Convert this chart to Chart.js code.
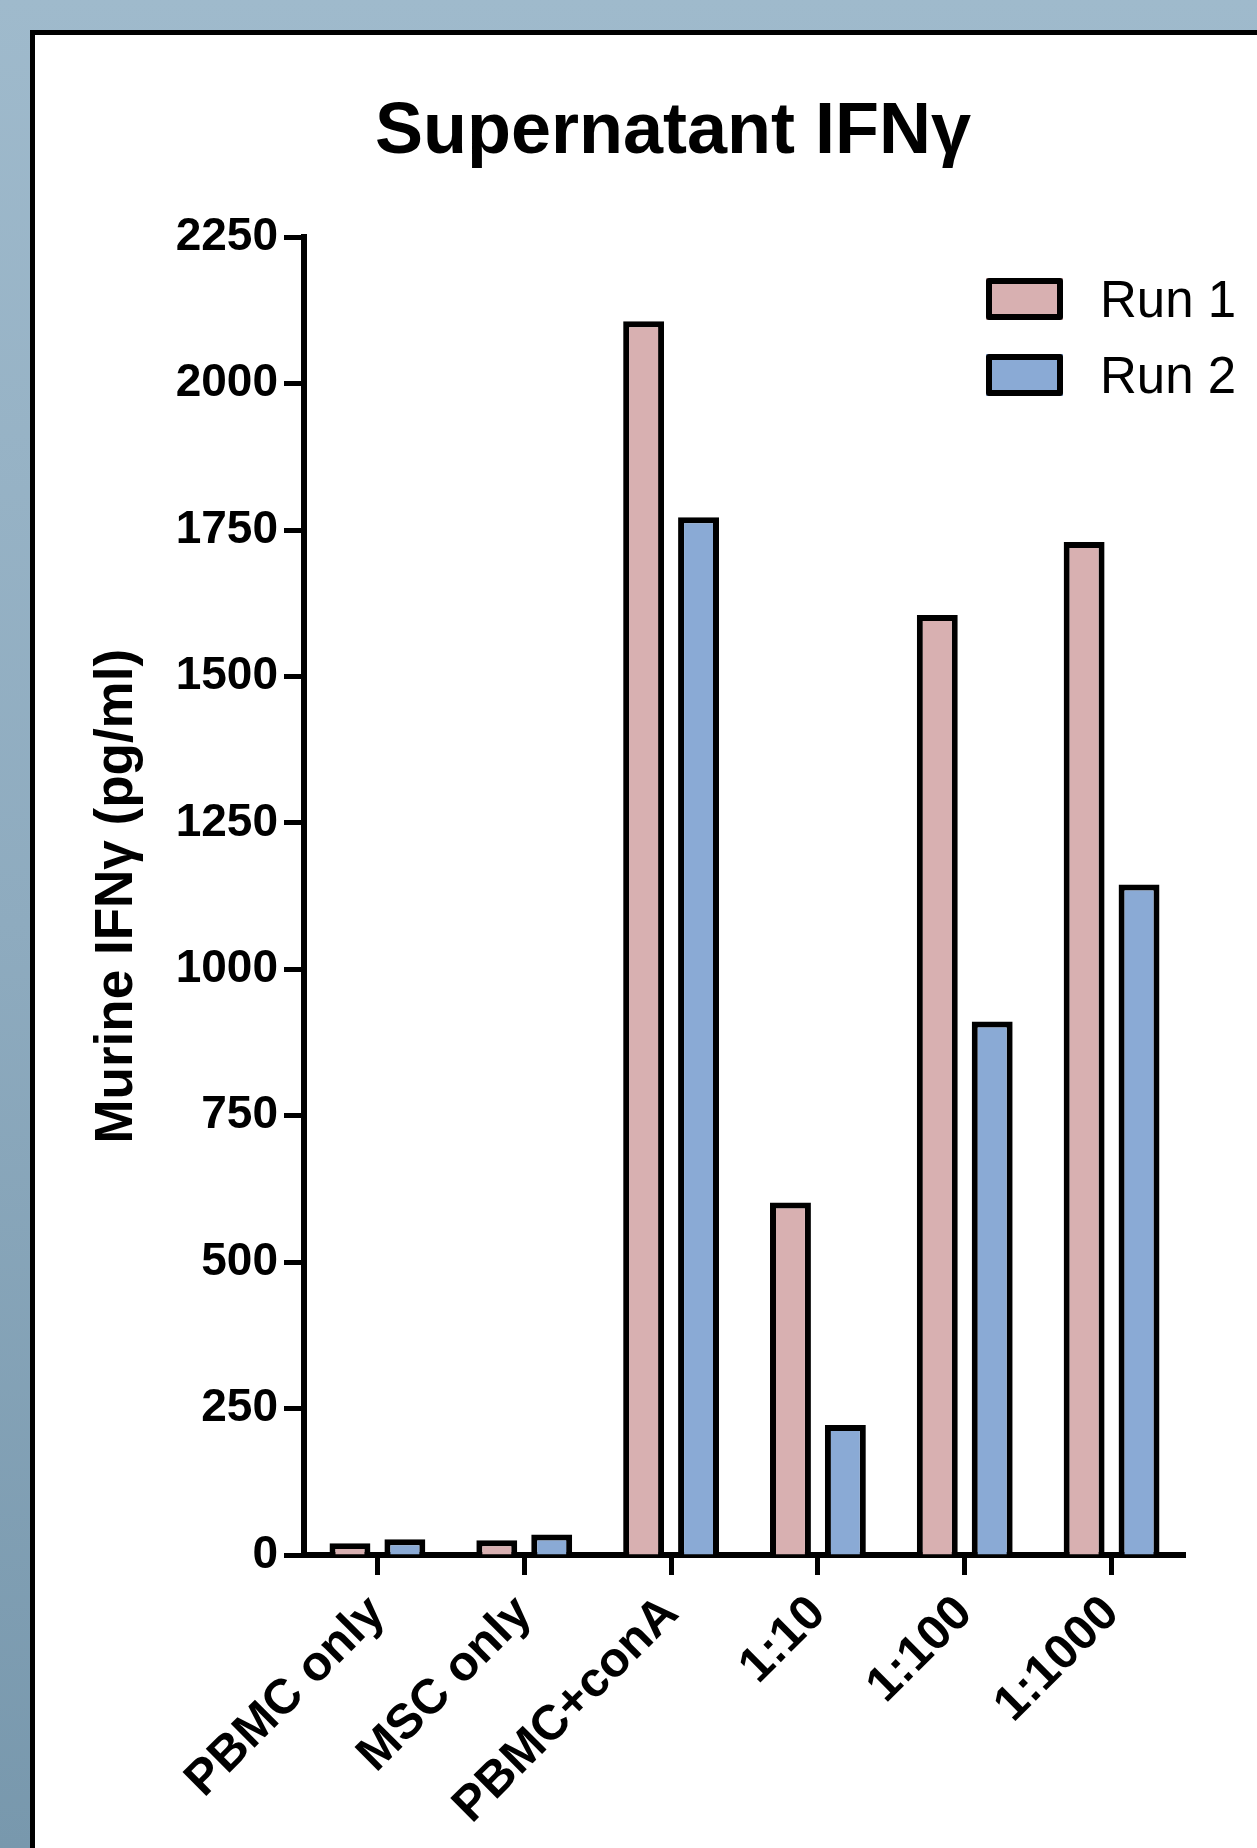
<!DOCTYPE html>
<html lang="en">
<head>
    <meta charset="UTF-8">
    <title>Supernatant IFNγ</title>
    <style>
        html, body {
            margin: 0;
            padding: 0;
            overflow: hidden;
        }
        #page {
            position: relative;
            width: 1257px;
            height: 1848px;
            overflow: hidden;
            background: linear-gradient(to bottom, #9fbacc 0%, #8eabbf 50%, #7898ad 100%);
        }
        #panel {
            position: absolute;
            left: 30px;
            top: 30px;
            width: 1300px;
            height: 1900px;
            background: #ffffff;
            border-left: 5px solid #000;
            border-top: 5px solid #000;
        }
        #grafico {
            position: absolute;
            left: 0;
            top: 0;
        }
    </style>
    <script src="https://cdn.jsdelivr.net/npm/chart.js"></script>
</head>
<body>
    <div id="page">
        <div id="panel"></div>
        <canvas id="grafico" width="1257" height="1848"></canvas>
    </div>

    <script>
        // data
        const categories = ["PBMC only", "MSC only", "PBMC+conA", "1:10", "1:100", "1:1000"];
        const seriesNames = ["Run 1", "Run 2"];
        const run1 = [20, 25, 2107, 602, 1605, 1730];
        const run2 = [27, 35, 1772, 222, 911, 1145];
        const yTicks = [0, 250, 500, 750, 1000, 1250, 1500, 1750, 2000, 2250];

        const pink = "#d8b0b1";
        const blue = "#8aaad5";

        Chart.defaults.font.family = "'Liberation Sans', Arial, sans-serif";
        Chart.defaults.color = "#000";

        // legend drawn inside the plot, top right
        const legendaRun = {
            id: "legendaRun",
            afterDraw(chart) {
                const ctx = chart.ctx;
                ctx.save();
                chart.data.datasets.forEach((ds, i) => {
                    const y = 278 + i * 76;
                    ctx.fillStyle = ds.backgroundColor;
                    ctx.fillRect(986, y, 77, 42);
                    ctx.lineWidth = 6;
                    ctx.lineJoin = "round";
                    ctx.strokeStyle = "#000";
                    ctx.strokeRect(989, y + 3, 71, 36);
                    ctx.fillStyle = "#000";
                    ctx.font = "51px 'Liberation Sans', Arial, sans-serif";
                    ctx.textBaseline = "alphabetic";
                    ctx.textAlign = "left";
                    ctx.fillText(ds.label, 1100, y + 39);
                });
                ctx.restore();
            }
        };

        const ctx = document.getElementById("grafico").getContext("2d");
        new Chart(ctx, {
            type: "bar",
            data: {
                labels: categories,
                datasets: [
                    {
                        label: seriesNames[0],
                        data: run1,
                        backgroundColor: pink,
                        borderColor: "#000",
                        borderWidth: 6
                    },
                    {
                        label: seriesNames[1],
                        data: run2,
                        backgroundColor: blue,
                        borderColor: "#000",
                        borderWidth: 6
                    }
                ]
            },
            options: {
                responsive: false,
                devicePixelRatio: 1,
                animation: false,
                categoryPercentage: 0.748,
                barPercentage: 0.745,
                // left padding shifts the centred title to where it sits in the figure
                layout: {
                    padding: { left: 161, right: 1257 - 1185, top: 0, bottom: 0 }
                },
                plugins: {
                    legend: { display: false },
                    tooltip: { enabled: false },
                    title: {
                        display: true,
                        text: "Supernatant IFNγ",
                        color: "#000",
                        font: { size: 72, weight: "bold" },
                        padding: { top: 90, bottom: 61 }
                    }
                },
                scales: {
                    x: {
                        afterFit(scale) { scale.height = 1848 - 1555; },
                        grid: {
                            display: true,
                            offset: false,
                            drawOnChartArea: false,
                            drawTicks: true,
                            tickLength: 20,
                            tickWidth: 5,
                            tickColor: "#000"
                        },
                        border: { display: true, color: "#000", width: 6 },
                        ticks: {
                            maxRotation: 45,
                            minRotation: 45,
                            padding: 10,
                            color: "#000",
                            font: { size: 49, weight: "bold" }
                        }
                    },
                    y: {
                        min: 0,
                        max: 2250,
                        afterFit(scale) { scale.width = 304 - 161; },
                        afterBuildTicks(scale) {
                            scale.ticks = yTicks.map(v => ({ value: v }));
                        },
                        grid: {
                            display: true,
                            drawOnChartArea: false,
                            drawTicks: true,
                            tickLength: 20,
                            tickWidth: 5,
                            tickColor: "#000"
                        },
                        border: { display: true, color: "#000", width: 6 },
                        ticks: {
                            padding: 6,
                            color: "#000",
                            font: { size: 46, weight: "bold" },
                            callback: v => String(v)
                        },
                        title: {
                            display: true,
                            text: "Murine IFNγ (pg/ml)",
                            color: "#000",
                            font: { size: 53, weight: "bold" },
                            padding: { top: -75, bottom: 0 }
                        }
                    }
                }
            },
            plugins: [legendaRun]
        });
    </script>
</body>
</html>
